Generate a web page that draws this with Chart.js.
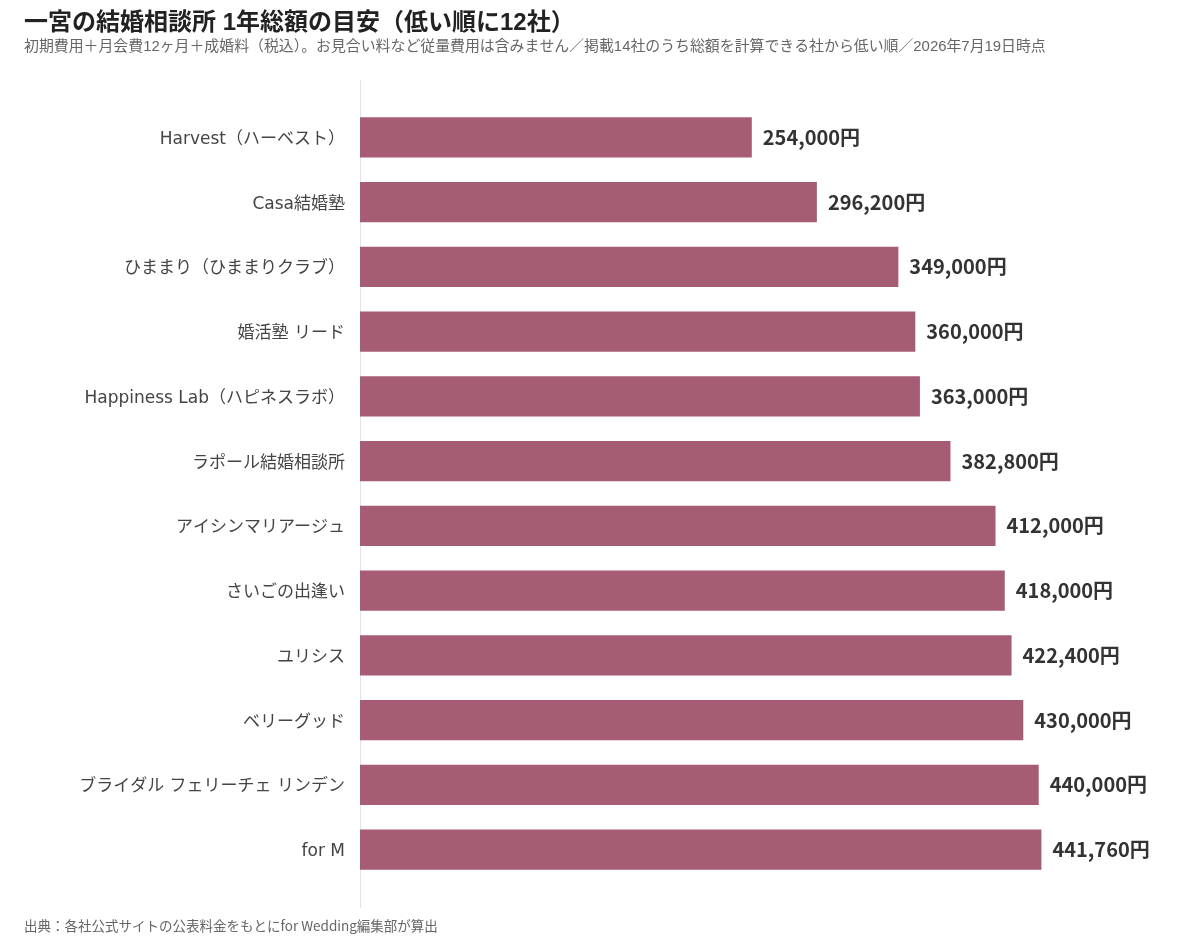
<!DOCTYPE html>
<html lang="ja">
<head>
<meta charset="utf-8">
<script src="https://cdn.jsdelivr.net/npm/chart.js@4.4.1/dist/chart.umd.min.js"></script>
<style>
  html, body { margin: 0; padding: 0; background: #ffffff; }
  #wrap { width: 1200px; height: 938px; position: relative; }
</style>
</head>
<body>
<div id="wrap"><canvas id="c"></canvas></div>
<script>
const titleText = "一宮の結婚相談所 1年総額の目安（低い順に12社）";
const subtitleText = "初期費用＋月会費12ヶ月＋成婚料（税込）。お見合い料など従量費用は含みません／掲載14社のうち総額を計算できる社から低い順／2026年7月19日時点";
const footerText = "出典：各社公式サイトの公表料金をもとにfor Wedding編集部が算出";

const categories = [
  "Harvest（ハーベスト）",
  "Casa結婚塾",
  "ひままり（ひままりクラブ）",
  "婚活塾 リード",
  "Happiness Lab（ハピネスラボ）",
  "ラポール結婚相談所",
  "アイシンマリアージュ",
  "さいごの出逢い",
  "ユリシス",
  "ベリーグッド",
  "ブライダル フェリーチェ リンデン",
  "for M"
];
const totals = [254000, 296200, 349000, 360000, 363000, 382800, 412000, 418000, 422400, 430000, 440000, 441760];
const unitSuffix = "円";

const FONT = '"Noto Sans CJK JP", "Noto Sans", sans-serif';
const FONT_MIX = '"Liberation Sans", "Noto Sans CJK JP", sans-serif';
const FONT_TICK = '"DejaVu Sans", "Noto Sans CJK JP", sans-serif';

const valueLabels = {
  id: 'valueLabels',
  afterDatasetsDraw(chart) {
    const ctx = chart.ctx;
    const meta = chart.getDatasetMeta(0);
    ctx.save();
    ctx.font = 'bold 20px ' + FONT;
    ctx.fillStyle = '#333333';
    ctx.textAlign = 'left';
    ctx.textBaseline = 'middle';
    meta.data.forEach((bar, i) => {
      const txt = totals[i].toLocaleString('en-US') + unitSuffix;
      ctx.fillText(txt, bar.x + 11, bar.y);
    });
    ctx.restore();
  }
};

const zeroLine = {
  id: 'zeroLine',
  beforeDatasetsDraw(chart) {
    const ctx = chart.ctx;
    const x = Math.round(chart.scales.x.getPixelForValue(0)) + 0.5;
    ctx.save();
    ctx.strokeStyle = '#e2e2e2';
    ctx.lineWidth = 1;
    ctx.beginPath();
    ctx.moveTo(x, chart.chartArea.top - 25);
    ctx.lineTo(x, chart.chartArea.bottom + 26);
    ctx.stroke();
    ctx.restore();
  }
};

const footer = {
  id: 'footer',
  afterDraw(chart) {
    const ctx = chart.ctx;
    ctx.save();
    ctx.font = '13.5px ' + FONT;
    ctx.fillStyle = '#666666';
    ctx.textAlign = 'left';
    ctx.textBaseline = 'middle';
    ctx.fillText(footerText, 24, 926);
    ctx.restore();
  }
};

new Chart(document.getElementById('c'), {
  type: 'bar',
  data: {
    labels: categories,
    datasets: [{
      data: totals,
      backgroundColor: '#a65d74',
      borderWidth: 0,
      barPercentage: 0.62,
      categoryPercentage: 1.0
    }]
  },
  options: {
    indexAxis: 'y',
    responsive: true,
    maintainAspectRatio: false,
    animation: false,
    layout: { padding: { left: 24, right: 24, top: 0, bottom: 56 } },
    plugins: {
      legend: { display: false },
      tooltip: { enabled: false },
      title: {
        display: true,
        text: titleText,
        align: 'start',
        color: '#222222',
        font: { family: FONT_MIX, size: 24, weight: 'bold', lineHeight: 1.2 },
        padding: { top: 9, bottom: 0 }
      },
      subtitle: {
        display: true,
        text: subtitleText,
        align: 'start',
        color: '#666666',
        font: { family: FONT_MIX, size: 14.9, weight: 'normal', lineHeight: 1.2 },
        padding: { top: 0, bottom: 49.3 }
      }
    },
    scales: {
      x: {
        display: false,
        min: 0,
        max: 529000
      },
      y: {
        grid: { display: false },
        border: { display: false },
        ticks: {
          color: '#444444',
          padding: 7,
          labelOffset: 2,
          font: { family: FONT_TICK, size: 17 }
        },
        afterFit(scale) { scale.width = 336; }
      }
    }
  },
  plugins: [zeroLine, valueLabels, footer]
});
</script>
</body>
</html>
